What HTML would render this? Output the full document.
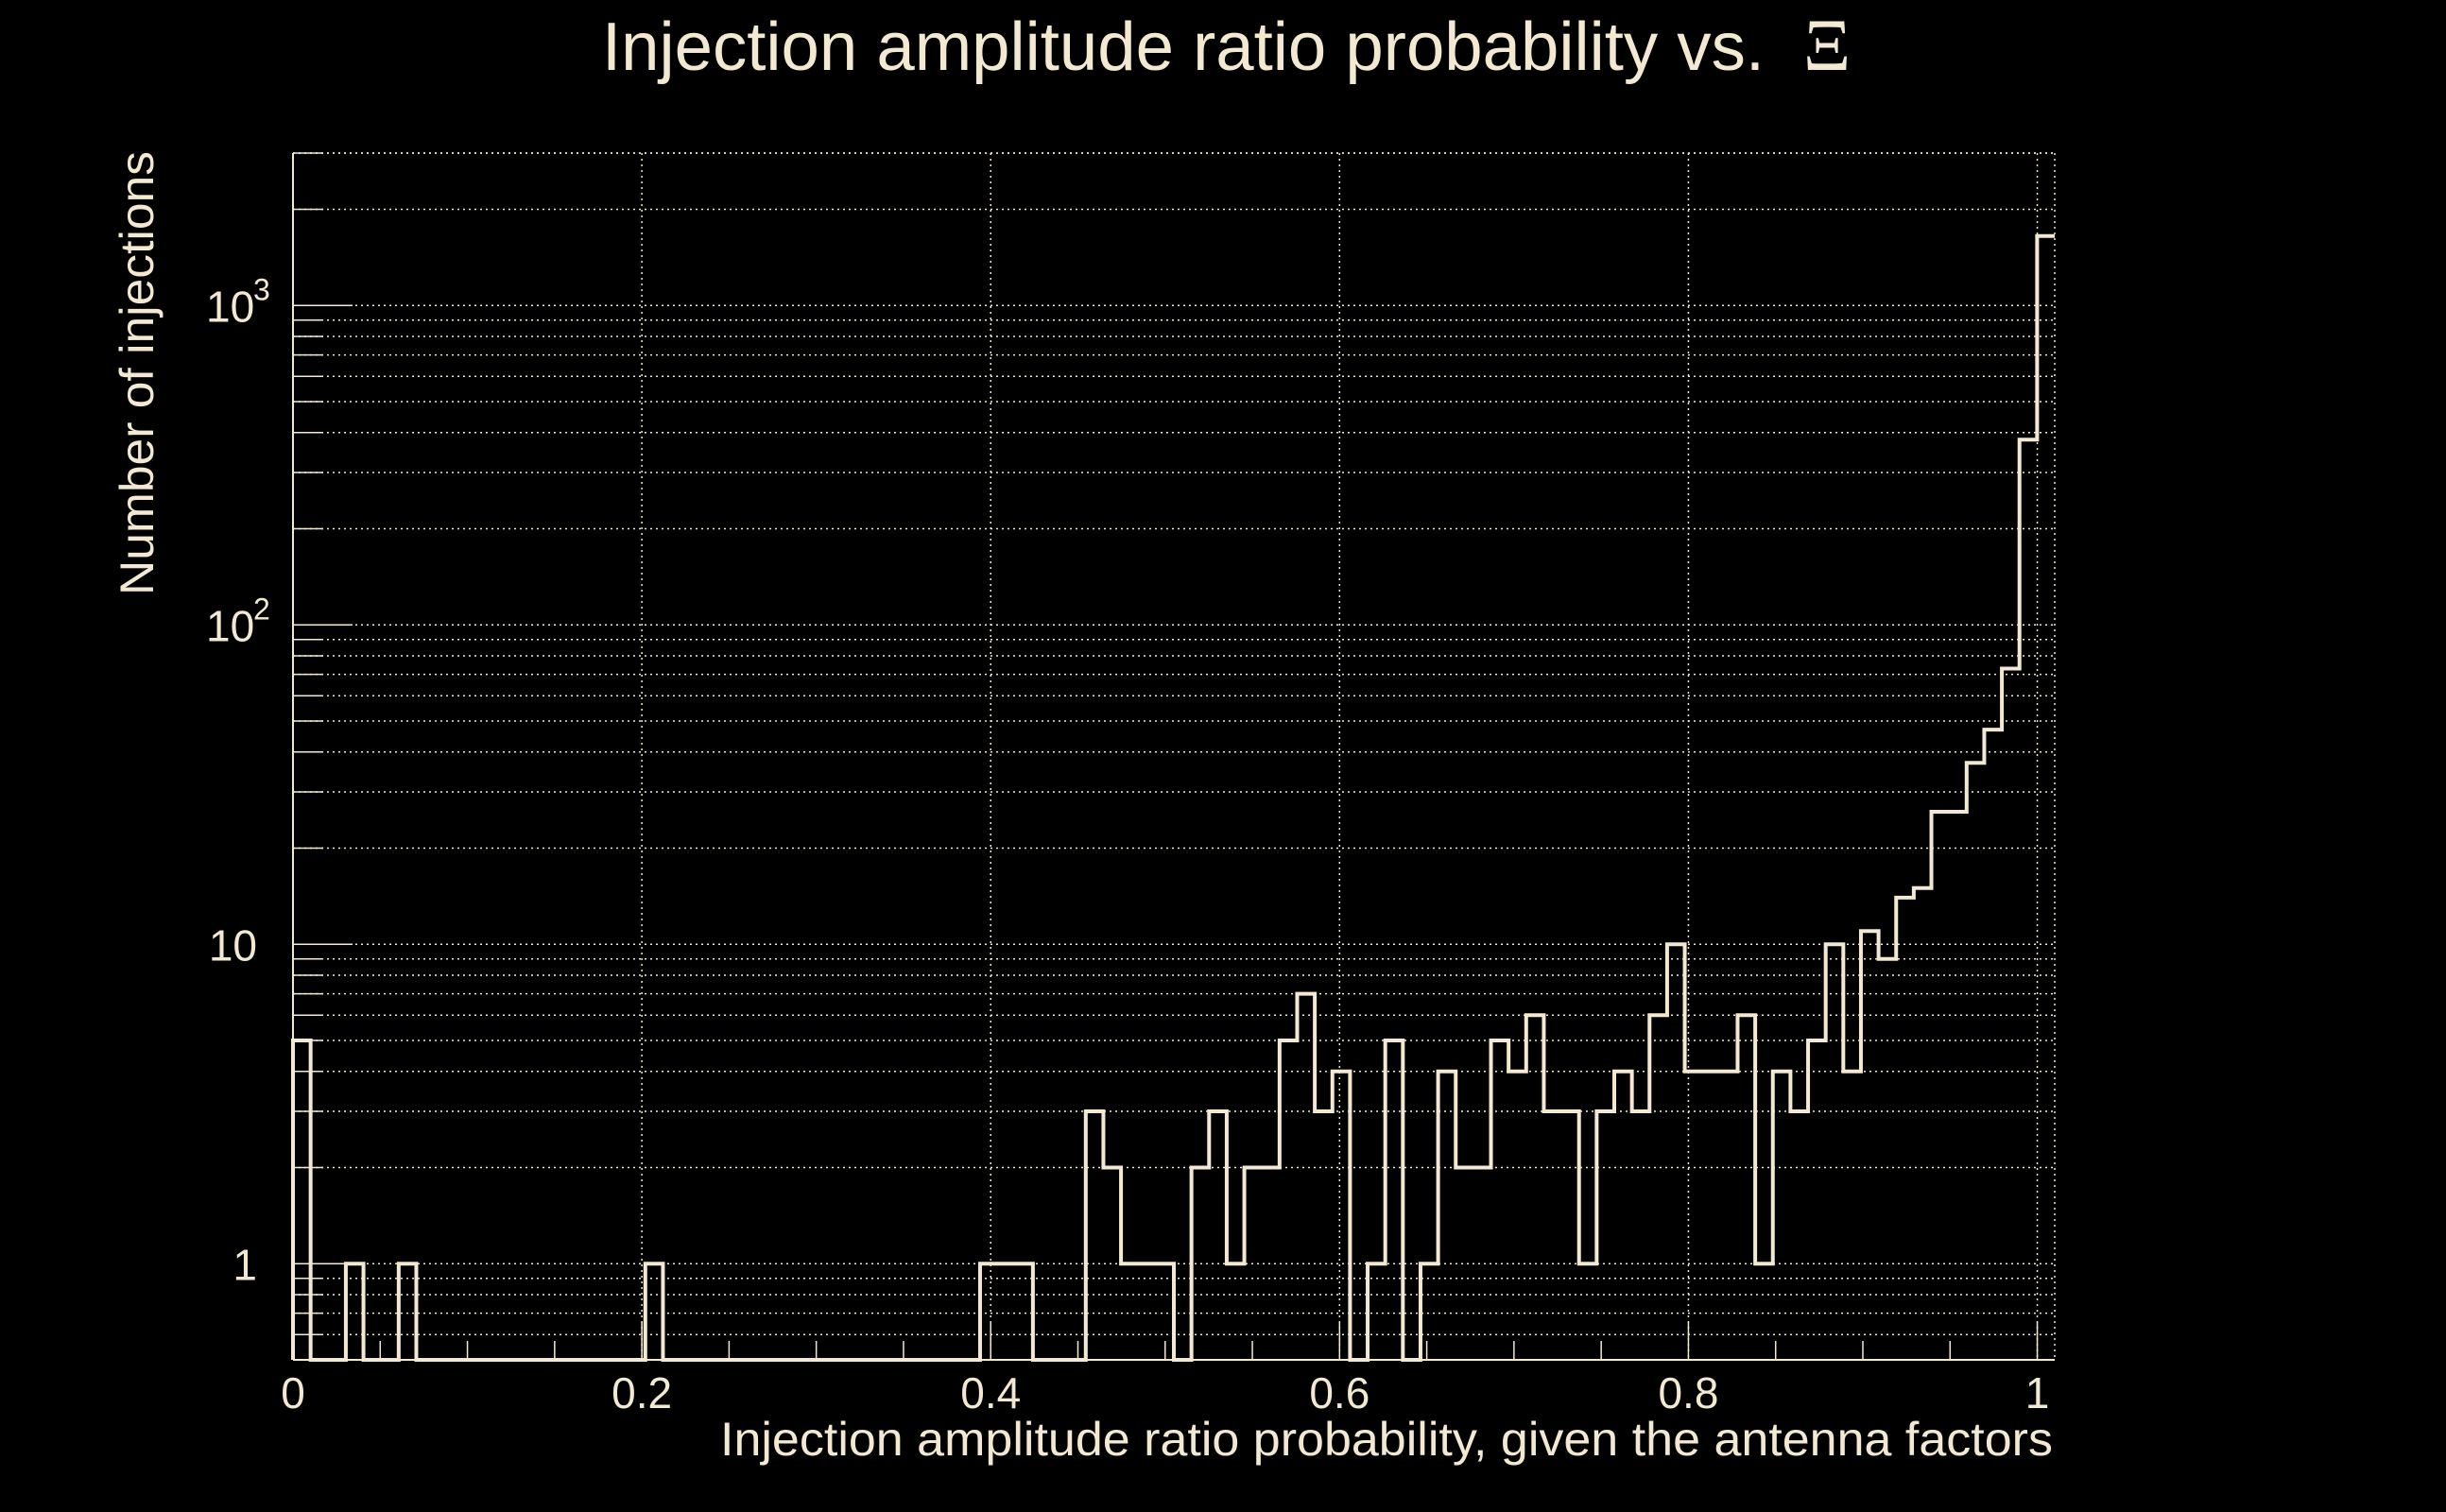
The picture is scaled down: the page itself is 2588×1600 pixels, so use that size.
<!DOCTYPE html>
<html><head><meta charset="utf-8">
<style>
html,body{margin:0;padding:0;background:#000;}
svg{display:block;}
text{font-family:"Liberation Sans",sans-serif;fill:#f3e9d1;}
</style></head>
<body>
<svg id="chart" xmlns="http://www.w3.org/2000/svg" width="2588" height="1600" viewBox="0 0 2588 1600">
<rect width="2588" height="1600" fill="#000"/>
<g id="grid"></g>
<g id="axes"></g>
<g id="series"></g>
<text x="637" y="74" font-size="72" textLength="1230" lengthAdjust="spacingAndGlyphs">Injection amplitude ratio probability vs.</text>
<text x="1908" y="74" font-size="78" style="font-family:'Liberation Serif',serif">Ξ</text>
<text x="2172" y="1540" font-size="50" text-anchor="end" textLength="1410" lengthAdjust="spacingAndGlyphs">Injection amplitude ratio probability, given the antenna factors</text>
<text transform="translate(162,630) rotate(-90)" x="0" y="0" font-size="50" textLength="470" lengthAdjust="spacingAndGlyphs">Number of injections</text>
</svg>
<script>
const binCounts = [5,0,0,1,0,0,1,0,0,0, 0,0,0,0,0,0,0,0,0,0, 1,0,0,0,0,0,0,0,0,0, 0,0,0,0,0,0,0,0,0,1, 1,1,0,0,0,3,2,1,1,1, 0,2,3,1,2,2,5,7,3,4, 0,1,5,0,1,4,2,2,5,4, 6,3,3,1,3,4,3,6,10,4, 4,4,6,1,4,3,5,10,4,11, 9,14,15,26,26,37,47,73,380,1650];
const binRange = [0, 1.01];
const xTickLabels = ["0","0.2","0.4","0.6","0.8","1"];
const xTickValues = [0,0.2,0.4,0.6,0.8,1];
const yTickValues = [1,10,100,1000];
const yTickLabels = ["1","10","10|2","10|3"];
const yRange = [0.5, 3000];

const NS="http://www.w3.org/2000/svg";
const L=310, R=2174, T=162, B=1439;
const C="#f3e9d1";
function xs(v){return L+(v-binRange[0])/(binRange[1]-binRange[0])*(R-L);}
function ys(v){const a=Math.log10(yRange[0]),b=Math.log10(yRange[1]);return B-(Math.log10(v)-a)/(b-a)*(B-T);}
function mk(tag,parent){const e=document.createElementNS(NS,tag);parent.appendChild(e);return e;}
const grid=document.getElementById('grid'),axes=document.getElementById('axes'),series=document.getElementById('series');

for(let d=-1;d<=3;d++){for(let m=1;m<=9;m++){const v=m*Math.pow(10,d);if(v<yRange[0]||v>yRange[1])continue;const y=ys(v);
 const g=mk('line',grid);
 
 
 g.setAttribute('x1',L);g.setAttribute('x2',R);g.setAttribute('y1',y);g.setAttribute('y2',y);g.setAttribute('stroke',C);g.setAttribute('stroke-width','1.5');g.setAttribute('stroke-dasharray','2 4');
 const t=mk('line',axes);
 
 
 t.setAttribute('x1',L);t.setAttribute('x2',L+(m===1?63:32));t.setAttribute('y1',y);t.setAttribute('y2',y);t.setAttribute('stroke',C);t.setAttribute('stroke-width','1.5');
}}
xTickValues.forEach((v,i)=>{const x=xs(v);
 const g=mk('line',grid);
 
 
 g.setAttribute('x1',x);g.setAttribute('x2',x);g.setAttribute('y1',T);g.setAttribute('y2',B);g.setAttribute('stroke',C);g.setAttribute('stroke-width','1.5');g.setAttribute('stroke-dasharray','2 4');
 const t=mk('text',axes);
 
 
 t.setAttribute('x',x);t.setAttribute('y',1490);t.setAttribute('font-size','46');t.setAttribute('text-anchor','middle');t.textContent=xTickLabels[i];
});
for(let k=0;k<=20;k++){const v=k*0.05;const x=xs(v);const major=(k%4===0);
 const t=mk('line',axes);
 
 
 t.setAttribute('x1',x);t.setAttribute('x2',x);t.setAttribute('y1',B);t.setAttribute('y2',B-(major?40:20));t.setAttribute('stroke',C);t.setAttribute('stroke-width','1.5');
}
[[L,T,R,T],[R,T,R,B]].forEach(s=>{const g=mk('line',grid);
 
 
 g.setAttribute('x1',s[0]);g.setAttribute('y1',s[1]);g.setAttribute('x2',s[2]);g.setAttribute('y2',s[3]);g.setAttribute('stroke',C);g.setAttribute('stroke-width','1.5');g.setAttribute('stroke-dasharray','2 4');});
[[L,T,L,B],[L,B,R,B]].forEach(s=>{const a=mk('line',axes);
 
 
 a.setAttribute('x1',s[0]);a.setAttribute('y1',s[1]);a.setAttribute('x2',s[2]);a.setAttribute('y2',s[3]);a.setAttribute('stroke',C);a.setAttribute('stroke-width','2');});
yTickValues.forEach((v,i)=>{const y=ys(v);const parts=yTickLabels[i].split('|');
 const t=mk('text',axes);
 
 
 t.setAttribute('font-size','46');
 if(parts.length===1){t.setAttribute('x',272);t.setAttribute('y',y+17);t.setAttribute('text-anchor','end');t.textContent=parts[0];}
 else{t.setAttribute('x',218);t.setAttribute('y',y+17);t.textContent=parts[0];
  const s=mk('text',axes);
  
  
  s.setAttribute('x',268);s.setAttribute('y',y-6);s.setAttribute('font-size','32');s.textContent=parts[1];}
});
const bw=(binRange[1]-binRange[0])/binCounts.length;
let d='';
binCounts.forEach((c,i)=>{const x0=xs(binRange[0]+i*bw),x1=xs(binRange[0]+(i+1)*bw);const y=c>0?ys(c):B;
 d+=(i===0?'M'+x0+','+B+' L'+x0+','+y:' L'+x0+','+y)+' L'+x1+','+y;});
const p=mk('path',series);


p.setAttribute('d',d);p.setAttribute('fill','none');p.setAttribute('stroke',C);p.setAttribute('stroke-width','4');
</script>
</body></html>
